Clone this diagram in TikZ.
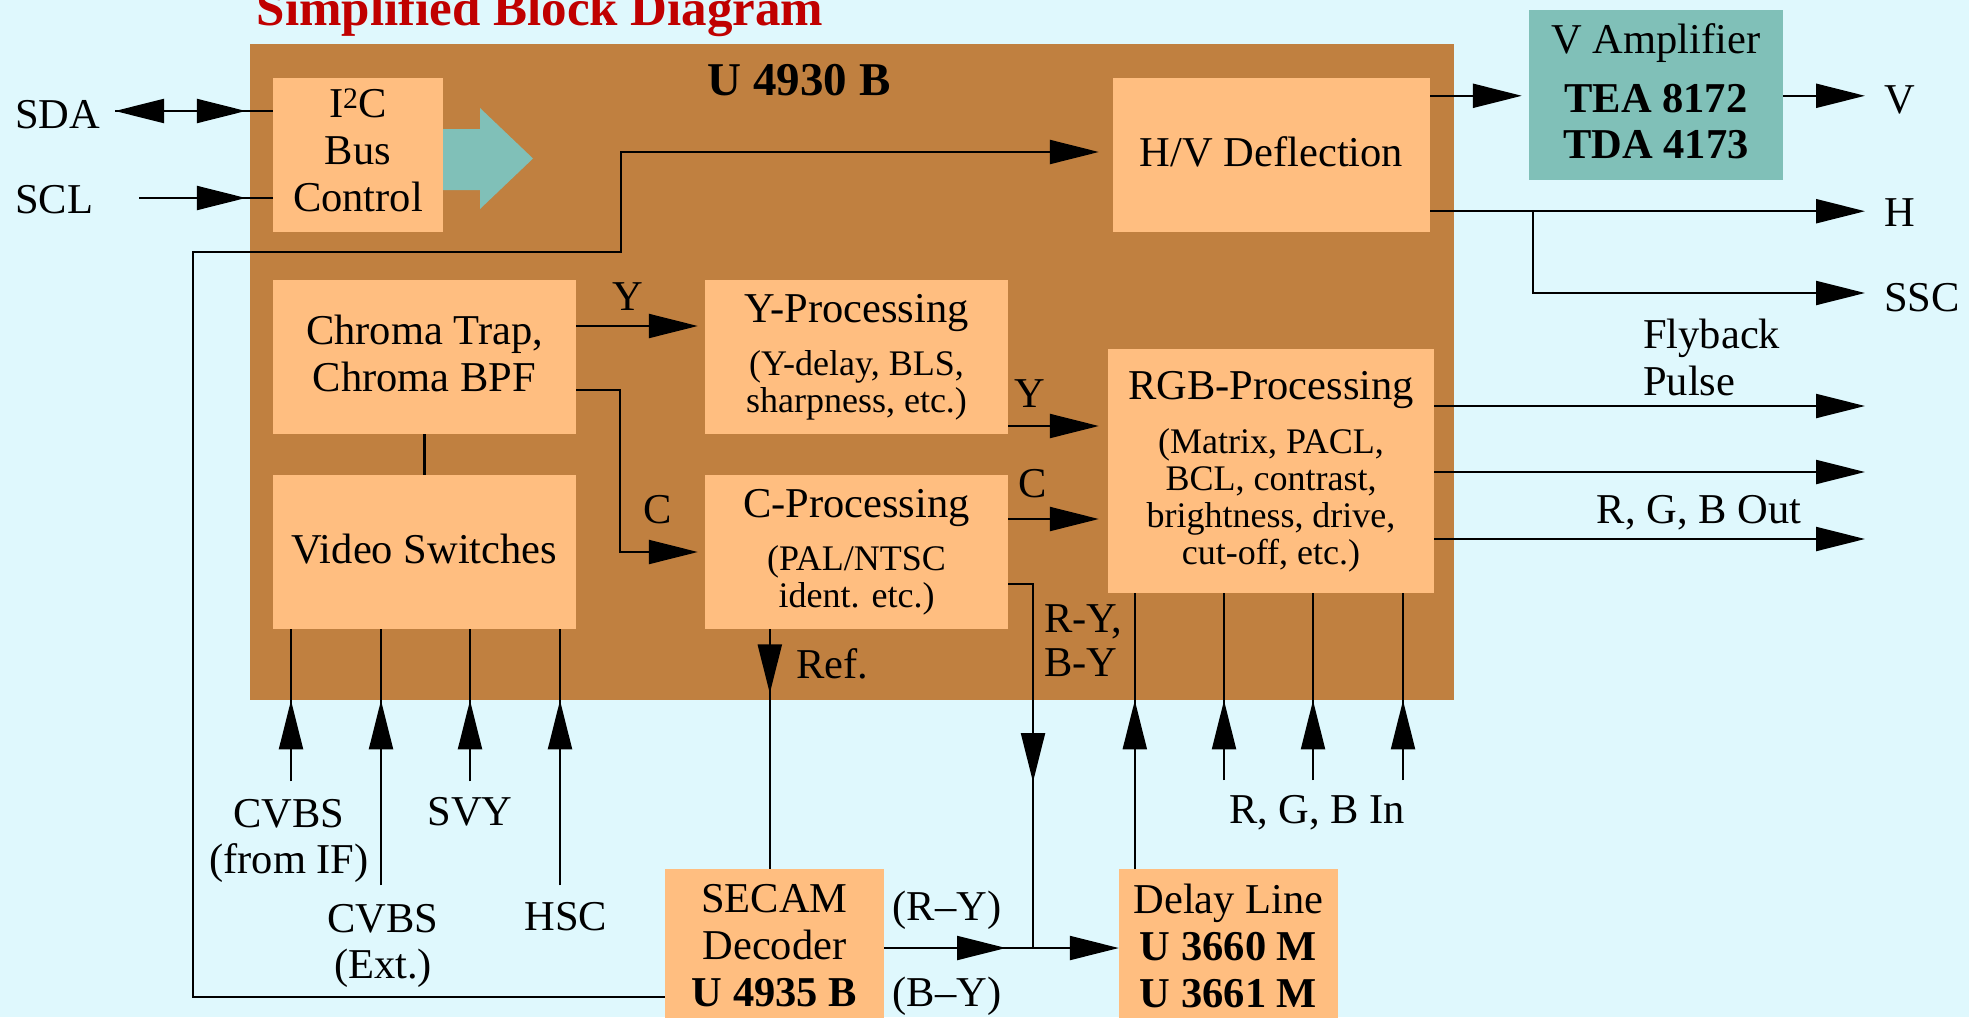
\documentclass[tikz,border=0pt]{standalone}
\usepackage{fontspec}
\setmainfont{Liberation Serif}
\usepackage{xcolor}
\usepackage{tikz}
\usetikzlibrary{arrows.meta,calc}
\definecolor{diagbg}{HTML}{DFF8FD}
\definecolor{chipbrown}{HTML}{C08040}
\definecolor{blockorange}{HTML}{FFBE80}
\definecolor{ampteal}{HTML}{80C0B8}
\definecolor{titlered}{HTML}{C00000}
\newcommand{\lblsize}{\fontsize{42.5}{47}\selectfont}
\newcommand{\notesize}{\fontsize{36}{37}\selectfont}
\tikzset{
  >={Triangle[length=49pt,width=24pt]},
  block/.style={fill=blockorange,inner sep=0pt,align=center,font=\lblsize,text depth=7pt},
  note block/.style={block,font=\notesize},
  stub block/.style={block,anchor=north,minimum width=219pt,inner ysep=15pt,text depth=20pt},
  sig/.style={draw=black,line width=2.2pt},
  arr/.style={sig,->},
  tag/.style={inner sep=0pt,font=\lblsize,align=center}
}

\begin{document}
\begin{tikzpicture}[x=1pt,y=-1pt]
  \useasboundingbox (0,0) rectangle (1969,1017);
  \fill[diagbg] (0,0) rectangle (1969,1017);
  \clip (0,0) rectangle (1969,1017);

  \node[text=titlered,font=\fontsize{51}{55}\selectfont\bfseries,anchor=base] (title) at (540,25) {Simplified Block Diagram};

  % chip and its blocks
  \node[fill=chipbrown,inner sep=0pt,minimum width=1204pt,minimum height=656pt,anchor=north west] (chip) at (250,44) {};
  \node[font=\fontsize{47}{50}\selectfont\bfseries,anchor=base] (chipname) at (799,95) {U 4930 B};
  \node[block,minimum width=170pt,minimum height=154pt,text depth=10pt] (i2c) at (358,155) {I\textsuperscript{2}C\\Bus\\Control};
  \node[block,minimum width=317pt,minimum height=154pt] (hvdefl) at (1271.5,155) {H/V Deflection};
  \node[block,minimum width=303pt,minimum height=154pt] (chroma) at (424.5,357) {Chroma Trap,\\Chroma BPF};
  \node[block,minimum width=303pt,minimum height=154pt] (vsw) at (424.5,552) {Video Switches};
  \node[note block,minimum width=303pt,minimum height=154pt] (yproc) at (856.5,357)
    {{\lblsize Y-Processing}\\[16pt](Y-delay, BLS,\\sharpness, etc.)};
  \node[note block,minimum width=303pt,minimum height=154pt] (cproc) at (856.5,552)
    {{\lblsize C-Processing}\\[16pt](PAL/NTSC\\ident. etc.)};
  \node[note block,minimum width=326pt,minimum height=244pt] (rgb) at (1271,471)
    {{\lblsize RGB-Processing}\\[17pt](Matrix, PACL,\\BCL, contrast,\\brightness, drive,\\cut-off, etc.)};

  % outside blocks
  \node[block,fill=ampteal,minimum width=254pt,minimum height=170pt,font=\fontsize{42.5}{46}\selectfont,text depth=8pt] (vamp) at (1656,95)
    {V Amplifier\\[13pt]\textbf{TEA 8172}\\\textbf{TDA 4173}};
  \node[stub block] (secam) at (774.5,869) {SECAM\\Decoder\\\textbf{U 4935 B}};
  \node[stub block] (delay) at (1228.5,869) {Delay Line\\\textbf{U 3660 M}\\\textbf{U 3661 M}};

  % bus arrow
  \fill[ampteal] (443,129) -- (480,129) -- (480,108) -- (533,158.5) -- (480,209) -- (480,190) -- (443,190) -- cycle;

  % I2C lines
  \coordinate (sdaend) at (115,111);
  \coordinate (sclend) at (139,198);
  \draw[sig] (sdaend) -- (sdaend -| i2c.west);
  \draw[sig,<->,shorten >=27pt] (sdaend) -- (sdaend -| i2c.west);
  \draw[sig] (sclend) -- (sclend -| i2c.west);
  \draw[arr,shorten >=27pt] (sclend) -- (sclend -| i2c.west);
  \node[tag,anchor=base west] (sda) at (15,128) {SDA};
  \node[tag,anchor=base west] (scl) at (15,213) {SCL};

  % SECAM to deflection
  \coordinate (loopcorner) at (193,997);
  \coordinate (hvfeed) at (621,152);
  \draw[arr,shorten >=14pt] (secam.west |- loopcorner) -- (loopcorner) -- (193,252) -- (621,252)
    -- (hvfeed) -- (hvfeed -| hvdefl.west);

  % deflection outputs
  \coordinate (outedge) at (1865,0);
  \coordinate (vdrive) at ($(hvdefl.north east)+(0,18)$);
  \draw[arr,shorten >=7pt] (vdrive) -- (vdrive -| vamp.west);
  \draw[arr] (vdrive -| vamp.east) -- (vdrive -| outedge);
  \coordinate (hsync) at ($(hvdefl.south east)+(0,-21)$);
  \coordinate (sscsplit) at ($(hsync)+(103,0)$);
  \coordinate (sscend) at (1865,293);
  \draw[arr] (hsync) -- (hsync -| outedge);
  \draw[arr] (sscsplit) |- (sscend);
  \node[tag,anchor=base west] (vlbl) at (1884,113) {V};
  \node[tag,anchor=base west] (hlbl) at (1884,226) {H};
  \node[tag,anchor=base west] (ssclbl) at (1884,311) {SSC};

  % luma / chroma paths
  \draw[arr,shorten >=7pt] ([yshift=31pt]chroma.east) -- ([yshift=31pt]yproc.west);
  \draw[arr,shorten >=7pt] ([yshift=-33pt]chroma.east) -- ++(44,0) |- (cproc.west);
  \draw[sig] (chroma.south) -- (vsw.north);
  \coordinate (yluma) at ([yshift=-69pt]yproc.east);
  \coordinate (cchroma) at ([yshift=33pt]cproc.east);
  \draw[arr,shorten >=9pt] (yluma) -- (yluma -| rgb.west);
  \draw[arr,shorten >=9pt] (cchroma) -- (cchroma -| rgb.west);
  \node[tag,anchor=base] (ylbl) at (628,310) {Y};
  \node[tag,anchor=base] (clbl) at (658,523) {C};
  \node[tag,anchor=base] (ylbl2) at (1030,407) {Y};
  \node[tag,anchor=base] (clbl2) at (1033,497) {C};

  % colour difference and delay line
  \coordinate (cdiff) at ($(cproc.east)+(0,32)$);
  \coordinate (jct) at (1033,948);
  \coordinate (sout) at (secam.east |- jct);
  \draw[sig] (cdiff) -| (jct);
  \draw[arr] (cdiff) -| ($(jct)+(0,-166)$);
  \draw[sig] (sout) -- (jct);
  \draw[arr] (sout) -- ($(jct)+(-27,0)$);
  \draw[arr] (jct) -- (jct -| delay.west);
  \node[tag,anchor=north west,align=left,font=\fontsize{42.5}{44}\selectfont] (rylbl) at (1044,604) {R-Y,\\B-Y};
  \node[tag,anchor=base] (rylbl2) at (947,920) {(R--Y)};
  \node[tag,anchor=base] (bylbl2) at (947,1006) {(B--Y)};

  \coordinate (refstart) at ($(cproc.south west)+(65,0)$);
  \draw[sig] (refstart) -- (refstart |- secam.north);
  \draw[arr] (refstart) -- ($(refstart |- chip.south)+(0,-7)$);
  \node[tag,anchor=base west] (reflbl) at (796,678) {Ref.};

  \coordinate (dlyout) at ($(delay.north west)+(16,0)$);
  \draw[sig] (dlyout) -- (dlyout |- rgb.south);
  \draw[arr] (dlyout) -- (dlyout |- chip.south);

  % RGB inputs and outputs
  \foreach \x/\name in {1224/rgbinr,1313/rgbing,1403/rgbinb}{
    \coordinate (\name) at (\x,780);
    \draw[sig] (\name) -- (\name |- rgb.south);
    \draw[arr] (\name) -- (\name |- chip.south);
  }
  \node[tag,anchor=base] (rgbinlbl) at (1317,823) {R, G, B In};
  \foreach \dy/\name in {-65/flyout,1/rgbmid,68/rgbout}{
    \coordinate (\name) at ($(rgb.east)+(0,\dy)$);
    \draw[arr] (\name) -- (\name -| outedge);
  }
  \node[tag,anchor=north west,align=left] (flylbl) at (1643,319) {Flyback\\Pulse};
  \node[tag,anchor=base] (rgboutlbl) at (1699,523) {R, G, B Out};

  % video inputs
  \foreach \x/\ystart/\name in {291/781/cvbsif,381/885/cvbsext,470/781/svyin,560/885/hscin}{
    \coordinate (\name) at (\x,\ystart);
    \draw[sig] (\name) -- (\name |- vsw.south);
    \draw[arr] (\name) -- (\name |- chip.south);
  }
  \node[tag,anchor=north,font=\fontsize{42.5}{46}\selectfont] (cvbsiflbl) at (289,799) {CVBS\\(from IF)};
  \node[tag,anchor=base] (svylbl) at (470,825) {SVY};
  \node[tag,anchor=north,font=\fontsize{42.5}{46}\selectfont] (cvbsextlbl) at (383,904) {CVBS\\(Ext.)};
  \node[tag,anchor=base] (hsclbl) at (566,930) {HSC};
\end{tikzpicture}
\end{document}
